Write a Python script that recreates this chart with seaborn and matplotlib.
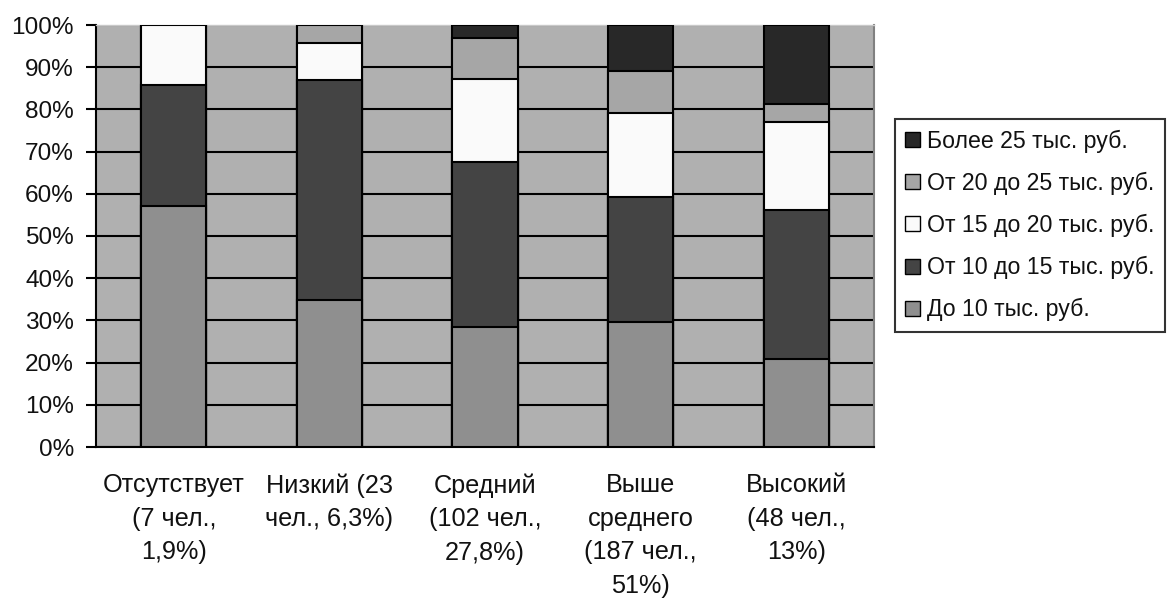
import matplotlib
matplotlib.use("Agg")
import matplotlib.pyplot as plt
from matplotlib.patches import Patch
import numpy as np
import pandas as pd
import seaborn as sns

categories = ["Отсутствует\n(7 чел.,\n1,9%)",
              "Низкий (23\nчел., 6,3%)",
              "Средний\n(102 чел.,\n27,8%)",
              "Выше\nсреднего\n(187 чел.,\n51%)",
              "Высокий\n(48 чел.,\n13%)"]
series_names = ["До 10 тыс. руб.", "От 10 до 15 тыс. руб.", "От 15 до 20 тыс. руб.",
                "От 20 до 25 тыс. руб.", "Более 25 тыс. руб."]
do10 = [57.1, 34.8, 28.4, 29.7, 20.8]
ot10_15 = [28.6, 52.2, 39.2, 29.5, 35.4]
ot15_20 = [14.3, 8.7, 19.6, 19.9, 20.8]
ot20_25 = [0.0, 4.3, 9.8, 10.0, 4.2]
bolee25 = [0.0, 0.0, 3.0, 10.9, 18.8]
yticks = [0, 10, 20, 30, 40, 50, 60, 70, 80, 90, 100]

colors = ["#8f8f8f", "#444444", "#fafafa", "#a6a6a6", "#282828"]

sns.set_theme(style="white")
plt.rcParams['font.family'] = ['Liberation Sans', 'DejaVu Sans']

fig = plt.figure(figsize=(11.67, 5.99), dpi=100)
ax = fig.add_axes([96/1167, 1-447/599, (874-96)/1167, (447-25)/599])
ax.set_facecolor("#b0b0b0")

values = [do10, ot10_15, ot15_20, ot20_25, bolee25]
cum = np.cumsum(np.array(values), axis=0)

# draw from the top layer down so each lower layer overlays
for i in range(len(values) - 1, -1, -1):
    df = pd.DataFrame({"cat": categories, "val": cum[i]})
    sns.barplot(data=df, x="cat", y="val", color=colors[i], saturation=1,
                width=0.42, edgecolor="black", linewidth=1.5, ax=ax, zorder=3)

ax.set_ylim(0, 100)
ax.set_xlim(-0.5, 4.5)
ax.set_yticks(yticks)
ax.set_yticklabels([f"{v}%" for v in yticks], fontsize=17.6, color="#111111")
ax.yaxis.grid(True, color="black", linewidth=1.5, zorder=0)
ax.xaxis.grid(False)
ax.set_axisbelow(True)

# category labels centered, ticks at boundaries
ax.set_xticks(range(5))
ax.set_xticklabels(categories, fontsize=18.2, color="#111111", linespacing=1.5)
ax.tick_params(axis="x", length=0, pad=19)
ax.set_xticks(np.arange(-0.5, 5, 1), minor=True)
ax.tick_params(axis="x", which="minor", length=7, width=1.5, color="black", direction="out")
ax.tick_params(axis="y", length=7, width=1.5, color="black", direction="out", left=True, pad=9)
ax.set_xlabel("")
ax.set_ylabel("")

for s in ["left", "bottom"]:
    ax.spines[s].set_color("black")
    ax.spines[s].set_linewidth(1.5)
ax.spines["right"].set_color("#808080")
ax.spines["right"].set_linewidth(1.5)
ax.spines["top"].set_color("#c8c8c8")
ax.spines["top"].set_linewidth(1.0)

handles = [Patch(facecolor=colors[i], edgecolor="black", linewidth=1.0, label=series_names[i])
           for i in range(len(series_names) - 1, -1, -1)]
leg = fig.legend(handles=handles, loc="upper left", bbox_to_anchor=(895/1167, 1-119/599),
                 fontsize=16.7, frameon=True, fancybox=False, edgecolor="black",
                 handlelength=0.62, handleheight=0.62, handletextpad=0.3,
                 labelspacing=0.82, borderpad=0.45, borderaxespad=0)
leg.get_frame().set_linewidth(1.5)
for t in leg.get_texts():
    t.set_color("#111111")

fig.savefig("out.png", dpi=100, facecolor="white")
